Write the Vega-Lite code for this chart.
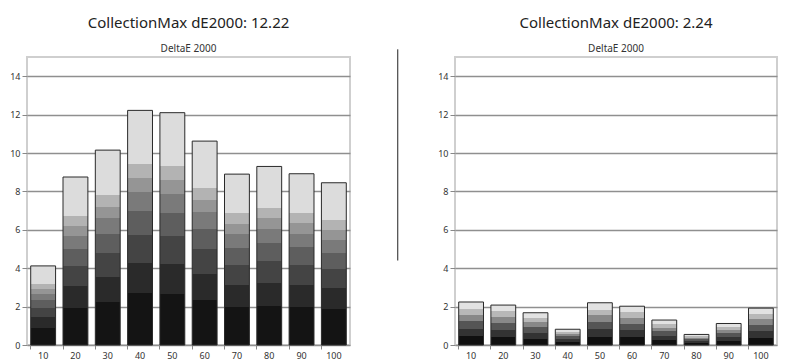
{
  "$schema": "https://vega.github.io/schema/vega-lite/v6.json",
  "padding": {"left": 8, "top": 15, "right": 10, "bottom": 2},
  "background": "white",
  "datasets": {
    "before": [
      {"level": "10", "dE": 4.12},
      {"level": "20", "dE": 8.75},
      {"level": "30", "dE": 10.15},
      {"level": "40", "dE": 12.22},
      {"level": "50", "dE": 12.1},
      {"level": "60", "dE": 10.62},
      {"level": "70", "dE": 8.9},
      {"level": "80", "dE": 9.3},
      {"level": "90", "dE": 8.92},
      {"level": "100", "dE": 8.45}
    ],
    "after": [
      {"level": "10", "dE": 2.24},
      {"level": "20", "dE": 2.08},
      {"level": "30", "dE": 1.68},
      {"level": "40", "dE": 0.82},
      {"level": "50", "dE": 2.2},
      {"level": "60", "dE": 2.02},
      {"level": "70", "dE": 1.3},
      {"level": "80", "dE": 0.55},
      {"level": "90", "dE": 1.12},
      {"level": "100", "dE": 1.92}
    ]
  },
  "config": {
    "font": "Noto Sans",
    "view": {"stroke": "#cfcfcf", "strokeWidth": 2},
    "title": {"fontSize": 15, "fontWeight": "normal", "color": "#222", "subtitleFontSize": 10, "subtitleColor": "#333", "subtitlePadding": 13, "offset": 3, "anchor": "middle"},
    "axis": {"labelFontSize": 9, "labelColor": "#333", "domain": false, "tickColor": "#888", "tickSize": 5, "labelPadding": 2}
  },
  "spacing": 0,
  "hconcat": [
    {
      "width": 323,
      "height": 288,
      "title": {"text": "CollectionMax dE2000: 12.22", "subtitle": "DeltaE 2000"},
      "data": {"name": "before"},
      "mark": {"type": "bar", "stroke": "#2a2a2a", "strokeWidth": 1,
        "color": {"gradient": "linear", "x1": 0, "y1": 1, "x2": 0, "y2": 0,
          "stops": [
            {"offset": 0, "color": "#141414"}, {"offset": 0.22, "color": "#141414"},
            {"offset": 0.22, "color": "#2a2a2a"}, {"offset": 0.35, "color": "#2a2a2a"},
            {"offset": 0.35, "color": "#444444"}, {"offset": 0.47, "color": "#444444"},
            {"offset": 0.47, "color": "#5e5e5e"}, {"offset": 0.57, "color": "#5e5e5e"},
            {"offset": 0.57, "color": "#7a7a7a"}, {"offset": 0.65, "color": "#7a7a7a"},
            {"offset": 0.65, "color": "#959595"}, {"offset": 0.71, "color": "#959595"},
            {"offset": 0.71, "color": "#b3b3b3"}, {"offset": 0.77, "color": "#b3b3b3"},
            {"offset": 0.77, "color": "#dcdcdc"}, {"offset": 1, "color": "#dcdcdc"}
          ]}},
      "encoding": {
        "x": {"field": "level", "type": "ordinal", "sort": null, "title": null,
          "scale": {"paddingInner": 0.23, "paddingOuter": 0.115},
          "axis": {"labelAngle": 0, "bandPosition": 0, "ticks": true, "tickSize": 4, "grid": false}},
        "y": {"field": "dE", "type": "quantitative", "title": null,
          "scale": {"domain": [0, 15], "nice": false},
          "axis": {"values": [0, 2, 4, 6, 8, 10, 12, 14], "grid": true, "gridColor": "#8f8f8f", "gridWidth": 1.5}}
      }
    },
    {
      "width": 85,
      "height": 288,
      "view": {"stroke": null},
      "data": {"values": [{}]},
      "mark": {"type": "rule", "color": "#222", "strokeWidth": 1},
      "encoding": {
        "x": {"datum": 0.55, "type": "quantitative", "scale": {"domain": [0, 1]}, "axis": null},
        "y": {"datum": 4.4, "type": "quantitative", "scale": {"domain": [0, 15]}, "axis": null},
        "y2": {"datum": 15.4}
      }
    },
    {
      "width": 322,
      "height": 288,
      "title": {"text": "CollectionMax dE2000: 2.24", "subtitle": "DeltaE 2000"},
      "data": {"name": "after"},
      "mark": {"type": "bar", "stroke": "#2a2a2a", "strokeWidth": 1,
        "color": {"gradient": "linear", "x1": 0, "y1": 1, "x2": 0, "y2": 0,
          "stops": [
            {"offset": 0, "color": "#101010"}, {"offset": 0.2, "color": "#101010"},
            {"offset": 0.2, "color": "#333333"}, {"offset": 0.38, "color": "#333333"},
            {"offset": 0.38, "color": "#555555"}, {"offset": 0.55, "color": "#555555"},
            {"offset": 0.55, "color": "#888888"}, {"offset": 0.7, "color": "#888888"},
            {"offset": 0.7, "color": "#b8b8b8"}, {"offset": 0.84, "color": "#b8b8b8"},
            {"offset": 0.84, "color": "#e2e2e2"}, {"offset": 1, "color": "#e2e2e2"}
          ]}},
      "encoding": {
        "x": {"field": "level", "type": "ordinal", "sort": null, "title": null,
          "scale": {"paddingInner": 0.23, "paddingOuter": 0.115},
          "axis": {"labelAngle": 0, "bandPosition": 0, "ticks": true, "tickSize": 4, "grid": false}},
        "y": {"field": "dE", "type": "quantitative", "title": null,
          "scale": {"domain": [0, 15], "nice": false},
          "axis": {"values": [0, 2, 4, 6, 8, 10, 12, 14], "grid": true, "gridColor": "#8f8f8f", "gridWidth": 1.5}}
      }
    }
  ]
}
